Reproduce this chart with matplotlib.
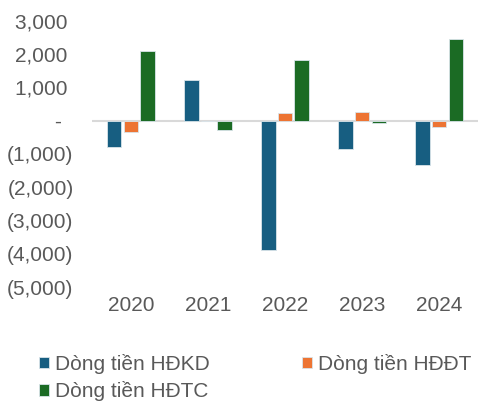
import numpy as np
import matplotlib
matplotlib.use("Agg")
from matplotlib import pyplot as plt
from matplotlib.ticker import FuncFormatter

years = ["2020", "2021", "2022", "2023", "2024"]
hdkd = [-780, 1220, -3880, -850, -1320]
hddt = [-330, 0, 230, 270, -180]
hdtc = [2080, -280, 1830, -70, 2460]

labels = ["Dòng tiền HĐKD", "Dòng tiền HĐĐT", "Dòng tiền HĐTC"]
colors = ["#175e81", "#ed7433", "#1b6b24"]
grey = "#595959"

plt.rcParams["font.family"] = ["Liberation Sans", "DejaVu Sans"]

fig = plt.figure(figsize=(4.86, 4.01), dpi=100)
ax = fig.add_axes([0.19, 0.284, 0.793, 0.664])

x = np.arange(len(years))
w = 0.185
step = 0.215
bars = []
for i, (vals, c) in enumerate(zip([hdkd, hddt, hdtc], colors)):
    b = ax.bar(x + (i - 1) * step, vals, width=w, color=c,
               edgecolor="#d9e4ea", linewidth=0.6)
    bars.append(b)

ax.axhline(0, color="#d9d9d9", linewidth=1.5, zorder=0)
ax.set_xlim(-0.5, len(years) - 0.5)
ax.set_ylim(-5000, 3000)
ax.set_yticks(range(-5000, 3001, 1000))


def fmt(v, pos):
    # accounting style: negatives in brackets, zero as a dash
    if v == 0:
        return "-  "
    if v < 0:
        return "({:,.0f})".format(-v)
    return "{:,.0f} ".format(v)


ax.yaxis.set_major_formatter(FuncFormatter(fmt))
ax.set_xticks(x)
ax.set_xticklabels(years)
ax.tick_params(length=0, labelsize=15, colors=grey)
ax.tick_params(axis="y", pad=13.5)
ax.tick_params(axis="x", pad=6.5)
for s in ax.spines.values():
    s.set_visible(False)

fig.legend([bars[0], bars[2], bars[1]], [labels[0], labels[2], labels[1]],
           ncol=2, loc="upper left", bbox_to_anchor=(0.080, 0.117),
           frameon=False, fontsize=15, labelcolor=grey,
           handlelength=0.48, handleheight=0.48, handletextpad=0.3,
           columnspacing=4.4, labelspacing=0.35, borderaxespad=0, borderpad=0)

fig.savefig("out.png", dpi=100)
